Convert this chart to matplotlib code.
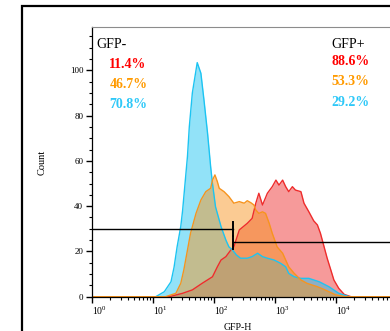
import numpy as np
import matplotlib
matplotlib.use('Agg')
import matplotlib.pyplot as plt
from matplotlib.patches import Rectangle
from matplotlib.ticker import LogLocator, MultipleLocator

plt.rcParams['font.family'] = ['Liberation Serif', 'DejaVu Serif']

# histogram outlines: log10(GFP-H) and count
red_log = [0, 1.27, 1.49, 1.65, 1.81, 1.98, 2.06, 2.12, 2.20, 2.28,
           2.33, 2.42, 2.55, 2.63, 2.69, 2.74, 2.80, 2.88, 2.96, 3.02,
           3.07, 3.13, 3.18, 3.23, 3.29, 3.34, 3.43, 3.48, 3.56, 3.64,
           3.70, 3.75, 3.81, 3.86, 3.92, 3.97, 4.05, 4.14, 4.25, 5.5]
red_count = [0, 0, 1.5, 3, 5.9, 8.8, 13.2, 16.2, 17.7, 20.6,
             22, 29.5, 32.4, 34.6, 41.3, 45.7, 40.5, 45.7, 48.6, 51.5,
             49.3, 51.5, 48.6, 46.4, 48.6, 47.1, 46.4, 41.3, 37.5, 33.5,
             31.7, 28, 22, 17, 11.8, 7.4, 3.7, 1, 0, 0]

cyan_log = [0, 1.05, 1.19, 1.30, 1.35, 1.40, 1.46, 1.49, 1.53, 1.57,
            1.60, 1.65, 1.73, 1.79, 1.84, 1.90, 1.95, 1.98, 2.03, 2.12,
            2.20, 2.25, 2.31, 2.37, 2.44, 2.55, 2.63, 2.72, 2.80, 2.88,
            2.99, 3.10, 3.18, 3.23, 3.32, 3.43, 3.56, 3.73, 3.89, 4.05,
            4.22, 5.5]
cyan_count = [0, 0, 2.2, 6.6, 13, 22, 31, 38, 50, 62,
              75, 90, 103.4, 98.7, 87, 72, 57.4, 50, 39.7, 31,
              25, 22, 20.6, 18.5, 17, 17, 17.7, 19.2, 17.7, 17,
              16.2, 14.7, 13.2, 10.3, 8.8, 8.1, 8.1, 6.6, 4.4, 1.5,
              0, 0]

orange_log = [0, 1.21, 1.38, 1.46, 1.51, 1.57, 1.62, 1.71, 1.79, 1.87,
              1.95, 1.98, 2.02, 2.06, 2.09, 2.17, 2.25, 2.33, 2.42, 2.50,
              2.55, 2.61, 2.66, 2.69, 2.74, 2.80, 2.85, 2.91, 2.96, 3.04,
              3.13, 3.18, 3.23, 3.32, 3.43, 3.53, 3.70, 3.81, 4.00, 4.16,
              5.5]
orange_count = [0, 0, 1.5, 5.9, 11.8, 20.6, 28, 36.8, 42.7, 46.4,
                47.9, 51.5, 53.8, 50.8, 47.9, 46.4, 44.2, 41.3, 42, 41.3,
                42.4, 41.5, 40.5, 38.3, 36.8, 37.5, 36.8, 32.4, 28, 22,
                19.2, 16.2, 13.2, 10.3, 7.4, 5.9, 4.4, 3.2, 0.8, 0,
                0]

# gate
gate_x = 207
gate_neg_y = 30
gate_pos_y = 24

neg_pct = ['11.4%', '46.7%', '70.8%']
pos_pct = ['88.6%', '53.3%', '29.2%']

red = '#EE2C2C'
cyan = '#1CC4F2'
orange = '#F7941E'
txt_colors = ['#FF0000', '#FF9A00', '#2EC8F8']

fig = plt.figure(figsize=(3.9, 3.31), dpi=100)
W, H = 390.0, 331.0
ax = fig.add_axes([91.7 / W, 34.3 / H, 335.5 / W, 269.4 / H])

# draw order: red, cyan, orange on top
for lg, cnt, col in [(red_log, red_count, red),
                     (cyan_log, cyan_count, cyan),
                     (orange_log, orange_count, orange)]:
    x = np.power(10.0, lg)
    ax.fill_between(x, 0, cnt, color=col, alpha=0.48, lw=0)
    ax.plot(x, cnt, color=col, lw=1.0)

ax.set_xscale('log')
ax.set_xlim(1, 10 ** 5.5)
ax.set_ylim(0, 119)

# gates
ax.plot([1, gate_x], [gate_neg_y, gate_neg_y], color='black', lw=1.0)
ax.plot([gate_x, gate_x], [gate_neg_y - 3, gate_neg_y + 3], color='black', lw=1.4)
ax.plot([gate_x, 10 ** 5.5], [gate_pos_y, gate_pos_y], color='black', lw=1.0)
ax.plot([gate_x, gate_x], [gate_pos_y - 3, gate_pos_y + 3], color='black', lw=1.4)

ax.spines['right'].set_visible(False)
ax.spines['top'].set_color('#8c8c8c')
ax.spines['top'].set_linewidth(0.8)
ax.spines['left'].set_linewidth(0.9)
ax.spines['bottom'].set_linewidth(0.9)

ax.xaxis.set_major_locator(LogLocator(base=10, numticks=10))
ax.xaxis.set_minor_locator(LogLocator(base=10, subs=np.arange(2, 10), numticks=20))
ax.yaxis.set_major_locator(MultipleLocator(20))
ax.yaxis.set_minor_locator(MultipleLocator(5))
ax.tick_params(which='major', direction='out', length=4, width=1.0, labelsize=6.5, pad=2)
ax.tick_params(which='minor', direction='out', length=2, width=0.8)
ax.tick_params(axis='x', labelsize=7)
plt.setp(ax.get_xticklabels(), ha='left')

ax.set_ylabel('Count', fontsize=7.5)
ax.yaxis.set_label_coords((47 - 91.7) / 335.5, 0.5)
ax.set_xlabel('GFP-H', fontsize=7)
ax.xaxis.set_label_coords((238 - 91.7) / 335.5, (296.7 - 322.5) / 269.4)

# annotation text
fig.text(96.7 / W, 1 - 44 / H, 'GFP-', fontsize=10, va='center', ha='left')
fig.text(331.7 / W, 1 - 44 / H, 'GFP+', fontsize=10, va='center', ha='left')
for i, (n, p) in enumerate(zip(neg_pct, pos_pct)):
    fig.text(109.3 / W, 1 - (65 + 20 * i) / H, n, fontsize=10, fontweight='bold',
             color=txt_colors[i], va='center', ha='left')
    fig.text(331.7 / W, 1 - (61.7 + 20.2 * i) / H, p, fontsize=10, fontweight='bold',
             color=txt_colors[i], va='center', ha='left')

# outer frame
fig.patches.append(Rectangle((21.7 / W, -0.2), 1.5, 1.2 - 6 / H, transform=fig.transFigure,
                             fill=False, edgecolor='black', lw=1.6, clip_on=False))

fig.savefig('out.png', dpi=100)
